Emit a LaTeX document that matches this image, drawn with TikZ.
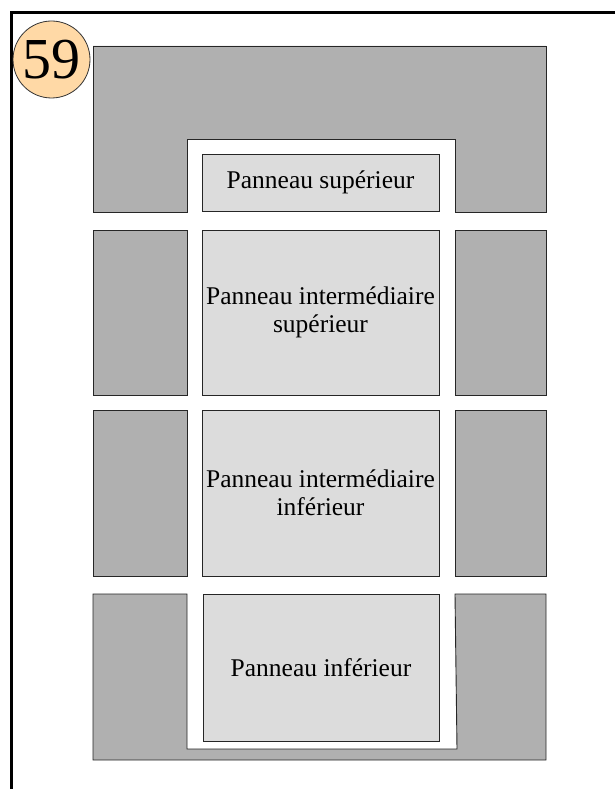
\documentclass[tikz,border=0pt]{standalone}
\usepackage{fontspec}
\setmainfont{Liberation Serif}
\usepackage{xcolor}
\usetikzlibrary{positioning}

\definecolor{cadre}{HTML}{B0B0B0}
\definecolor{panneau}{HTML}{DCDCDC}
\definecolor{pastille}{HTML}{FFD9A6}

\begin{document}
\begin{tikzpicture}[
      x=1pt, y=-1pt,
      montant/.style={fill=cadre, draw=black!85, line width=0.9pt},
      panel/.style={rectangle, fill=panneau, draw=black!85, line width=0.9pt,
        minimum width=237pt, inner sep=0pt, align=center,
        font=\fontsize{25.5}{27.5}\selectfont}
    ]
      \useasboundingbox (0,0) rectangle (615,789);
      \clip (0,0) rectangle (615,789);

      % cadre de la page
      \draw[line width=3pt] (11,800) -- (11,13) -- (630,13);

      % traverse haute et basse
      \draw[montant] (93,46) -- (546,46) -- (546,212) -- (455,212) -- (455,139)
        -- (187,139) -- (187,212) -- (93,212) -- cycle;
      \draw[montant] (93,594) -- (187,594) -- (187,749) -- (457,749) -- (455,594)
        -- (546,594) -- (546,760) -- (93,760) -- cycle;

      % montants
      \draw[montant] (93,230) rectangle (187,395);
      \draw[montant] (455,230) rectangle (546,395);
      \draw[montant] (93,410) rectangle (187,576);
      \draw[montant] (455,410) rectangle (546,576);

      % panneaux
      \node[panel, minimum height=57pt] (sup) at (320.5,182.5) {Panneau supérieur};
      \node[panel, minimum height=165pt] (intsup) at (320.5,312.5)
        {Panneau intermédiaire\\supérieur};
      \node[panel, minimum height=166pt] (intinf) at (320.5,493)
        {Panneau intermédiaire\\inférieur};
      \node[panel, minimum height=147pt, minimum width=236pt] (inf) at (321,667.5)
        {Panneau inférieur};

      % numéro
      \node[circle, fill=pastille, draw=black!80, line width=0.8pt,
        minimum size=77pt, inner sep=0pt, font=\fontsize{58}{58}\selectfont]
        (num) at (51.5,59.5) {59};
\end{tikzpicture}
\end{document}
